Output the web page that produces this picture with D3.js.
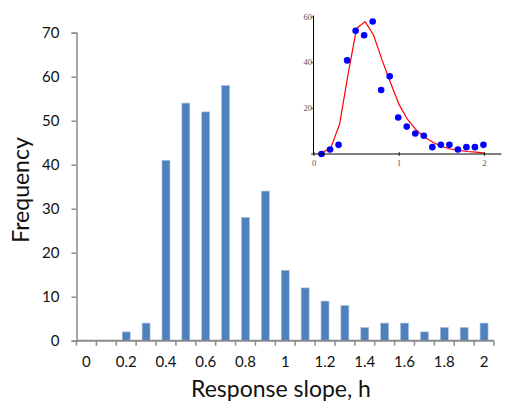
<!DOCTYPE html>
<html><head><meta charset="utf-8">
<script src="https://cdn.jsdelivr.net/npm/d3@7"></script>
<style>body{margin:0;background:#fff}svg{display:block}</style>
</head><body>
<svg id="c" width="510" height="403"></svg>
<script>
const categories = ["0","0.1","0.2","0.3","0.4","0.5","0.6","0.7","0.8","0.9","1","1.1","1.2","1.3","1.4","1.5","1.6","1.7","1.8","1.9","2"];
const frequency = [0,0,2,4,41,54,52,58,28,34,16,12,9,8,3,4,4,2,3,3,4];
const yTicks = [0,10,20,30,40,50,60,70];
const xTickLabels = ["0","0.2","0.4","0.6","0.8","1","1.2","1.4","1.6","1.8","2"];

// inset
const insetX = [0.1,0.2,0.3,0.4,0.5,0.6,0.7,0.8,0.9,1.0,1.1,1.2,1.3,1.4,1.5,1.6,1.7,1.8,1.9,2.0];
const insetPoints = [0,2,4,41,54,52,58,28,34,16,12,9,8,3,4,4,2,3,3,4];
const fitX = [0.05,0.1,0.2,0.3,0.4,0.5,0.6,0.7,0.8,0.9,1.0,1.1,1.2,1.3,1.4,1.5,1.6,1.7,1.8,1.9,2.0];
const fitY = [0,0.5,3,13,35,55,58,52,41,31,21.5,15,10.5,7.3,5,3.3,2.2,1.6,1.1,0.8,0.4];
const insetYTicks = [20,40,60];
const insetXTicks = [0,1,2];

const svg = d3.select("#c");
const font = "Lato, 'Open Sans', sans-serif";
const axisCol = "#8a8a8a";

const x = d3.scaleBand().domain(categories).range([76.5, 494]).paddingInner(0.6).paddingOuter(0.3);
const y = d3.scaleLinear().domain([0,70]).range([340.7, 32.7]);

// bars
svg.append("g").selectAll("rect").data(frequency).join("rect")
  .attr("x",(d,i)=>x(categories[i]))
  .attr("y",d=>y(d))
  .attr("width",x.bandwidth())
  .attr("height",d=>y(0)-y(d))
  .attr("fill","#4f81bd")
  .attr("stroke","#a9c0e0").attr("stroke-width",0.6);

// y axis
const ya = svg.append("g").attr("transform",`translate(${x.range()[0]},0)`)
  .call(d3.axisLeft(y).tickValues(yTicks).tickSize(5).tickPadding(12).tickFormat(d3.format("d")));
ya.select(".domain").attr("stroke",axisCol).attr("stroke-width",1.5);
ya.selectAll(".tick line").attr("stroke",axisCol).attr("stroke-width",1.5);
ya.selectAll("text").attr("font-family",font).attr("font-size",15).attr("fill","#111");

// x axis baseline
const step = x.step();
svg.append("line").attr("x1",x.range()[0]).attr("x2",x.range()[1])
  .attr("y1",y(0)).attr("y2",y(0)).attr("stroke",axisCol).attr("stroke-width",2);
// boundary ticks
const bounds = categories.map(c=>x(c)-(step-x.bandwidth())/2).concat([x.range()[1]]);
svg.append("g").selectAll("line").data(bounds).join("line")
  .attr("x1",d=>d).attr("x2",d=>d).attr("y1",y(0)).attr("y2",y(0)+5)
  .attr("stroke",axisCol).attr("stroke-width",1.5);
// labels
svg.append("g").selectAll("text").data(xTickLabels).join("text")
  .attr("x",d=>x(d)+x.bandwidth()/2).attr("y",366.5)
  .attr("text-anchor","middle").attr("font-family",font).attr("font-size",15).attr("fill","#111")
  .text(d=>d);

// titles
svg.append("text").attr("transform","translate(29,190) rotate(-90)")
  .attr("text-anchor","middle").attr("font-family",font).attr("font-size",23).attr("fill","#111")
  .text("Frequency");
svg.append("text").attr("x",281).attr("y",397)
  .attr("text-anchor","middle").attr("font-family",font).attr("font-size",23).attr("fill","#111")
  .text("Response slope, h");

// inset
const ix = d3.scaleLinear().domain([0,2.2]).range([314,501.5]);
const iy = d3.scaleLinear().domain([0,60]).range([154,17]);
const ifont = "'Liberation Serif', 'DejaVu Serif', serif";
const inset = svg.append("g");
inset.append("path").attr("d",d3.line().x((d,i)=>ix(fitX[i])).y(d=>iy(d))(fitY))
  .attr("fill","none").attr("stroke","#ff0000").attr("stroke-width",1.2);
inset.append("g").selectAll("circle").data(insetPoints).join("circle")
  .attr("cx",(d,i)=>ix(insetX[i])-1).attr("cy",d=>iy(d)).attr("r",3.3).attr("fill","#0000ff");
// axes
inset.append("line").attr("x1",ix(0)-0.5).attr("x2",ix(0)-0.5).attr("y1",iy(0)).attr("y2",iy(60)-1.5)
  .attr("stroke","#000").attr("stroke-width",1);
inset.append("line").attr("x1",ix(0)-1).attr("x2",ix.range()[1]).attr("y1",iy(0)).attr("y2",iy(0))
  .attr("stroke","#000").attr("stroke-width",1);
inset.append("g").selectAll("line").data([0].concat(insetYTicks)).join("line")
  .attr("x1",ix(0)-3).attr("x2",ix(0)).attr("y1",d=>iy(d)).attr("y2",d=>iy(d))
  .attr("stroke","#000").attr("stroke-width",0.8);
inset.append("g").selectAll("line").data(insetXTicks).join("line")
  .attr("x1",d=>ix(d)).attr("x2",d=>ix(d)).attr("y1",iy(0)-2).attr("y2",iy(0)+2)
  .attr("stroke","#000").attr("stroke-width",0.8);
inset.append("g").selectAll("text").data(insetYTicks).join("text")
  .attr("x",ix(0)-2).attr("y",d=>iy(d)+2.5).attr("text-anchor","end")
  .attr("font-family",ifont).attr("font-size",8.5).attr("fill","#555").text(d=>d);
inset.append("g").selectAll("text").data(insetXTicks).join("text")
  .attr("x",d=>ix(d)).attr("y",166).attr("text-anchor","middle")
  .attr("font-family",ifont).attr("font-size",8.5).attr("fill","#555").text(d=>d);
</script>
</body></html>
